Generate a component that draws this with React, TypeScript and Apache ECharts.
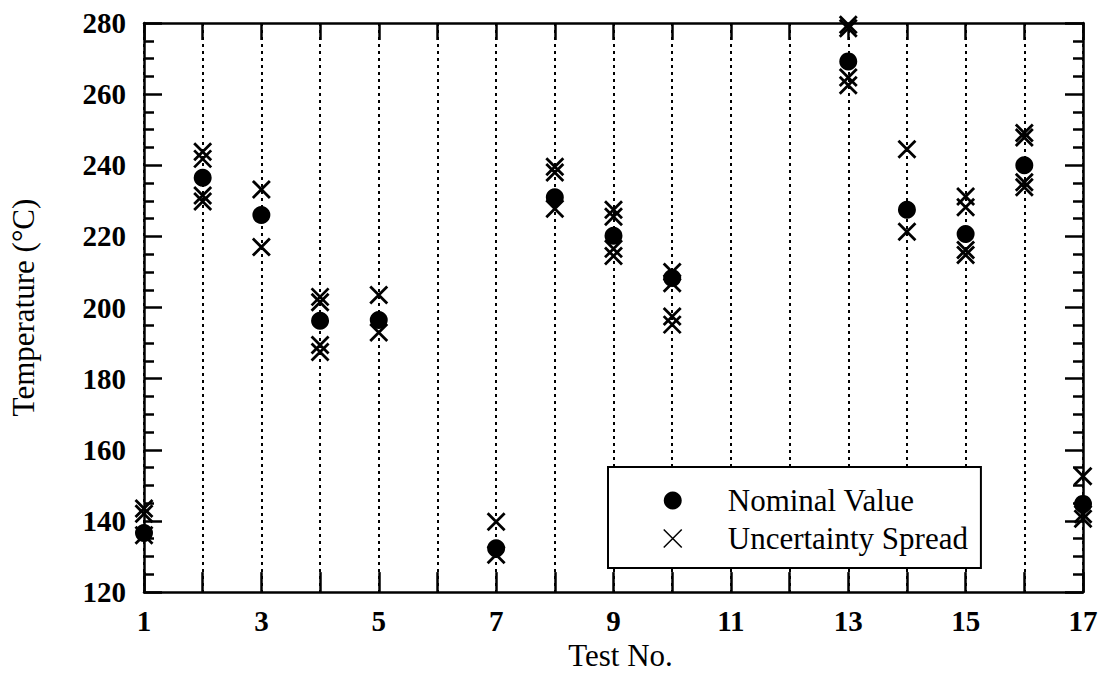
import React, { useEffect, useRef } from "react";
import * as echarts from "echarts";

const TESTS = [1, 2, 3, 4, 5, 6, 7, 8, 9, 10, 11, 12, 13, 14, 15, 16, 17];
const X_TICK_LABELS = ["1", "3", "5", "7", "9", "11", "13", "15", "17"];
const NOMINAL: (number | null)[] = [136.6, 236.5, 226.0, 196.3, 196.5, null, 132.3, 231.0, 220.2, 208.3, null, null, 269.2, 227.5, 220.7, 240.0, 144.8];
const SPREAD_A: (number | null)[] = [143.5, 243.8, 233.2, 203.0, 203.5, null, 139.8, 239.6, 227.5, 210.0, null, null, 279.5, 244.5, 231.2, 249.1, 152.6];
const SPREAD_B: (number | null)[] = [142.0, 241.8, null, 201.5, null, null, null, 238.0, 225.5, 206.8, null, null, 278.5, null, 228.2, 247.8, 141.9];
const SPREAD_C: (number | null)[] = [136.0, 231.5, 217.0, 189.5, 193.0, null, 130.5, 227.8, 216.5, 197.5, null, null, 264.7, 221.3, 216.2, 235.2, 140.6];
const SPREAD_D: (number | null)[] = [null, 229.8, null, 187.5, null, null, null, null, 214.5, 195.2, null, null, 262.5, null, 214.8, 233.8, null];
const LEGEND_NAMES = ["Nominal Value", "Uncertainty Spread"];

const FONT = "Liberation Serif";
const CROSS = "path://M0,0L16,16M0,16L16,0";

function pairs(values: (number | null)[]): [number, number][] {
  const out: [number, number][] = [];
  values.forEach((v, i) => {
    if (v !== null) out.push([TESTS[i], v]);
  });
  return out;
}

export default function App() {
  const ref = useRef<HTMLDivElement>(null);
  useEffect(() => {
    if (!ref.current) return;
    const chart = echarts.init(ref.current, null, { renderer: "svg" });
    const spread = [
      ...pairs(SPREAD_A),
      ...pairs(SPREAD_B),
      ...pairs(SPREAD_C),
      ...pairs(SPREAD_D),
    ];
    const axisLine = { show: true, lineStyle: { color: "#000", width: 2.5 } };
    const yCommon = {
      type: "value",
      min: 120,
      max: 280,
      interval: 20,
      axisLine,
      splitLine: { show: false },
      minorSplitLine: { show: false },
      axisTick: { show: true, inside: true, length: 18, lineStyle: { color: "#000", width: 2.5 } },
      minorTick: { show: true, splitNumber: 4, length: 10, lineStyle: { color: "#000", width: 2.5 } },
    };
    const xCommon = {
      type: "value",
      min: 1,
      max: 17,
      interval: 1,
      axisLine,
    };
    const legendText = { fontFamily: FONT, fontSize: 31, color: "#000", fontWeight: "normal" };
    chart.setOption({
      animation: false,
      backgroundColor: "#fff",
      textStyle: { fontFamily: FONT },
      grid: { left: 143, right: 36, top: 23, bottom: 83, containLabel: false },
      legend: {
        orient: "vertical",
        left: 608,
        top: 467,
        padding: [18, 13, 14, 55],
        itemGap: 7,
        itemWidth: 100,
        itemHeight: 18,
        borderColor: "#000",
        borderWidth: 2,
        backgroundColor: "#fff",
        textStyle: legendText,
        data: [
          { name: LEGEND_NAMES[0], icon: "circle", textStyle: legendText, itemStyle: { color: "#000", opacity: 1 } },
          {
            name: LEGEND_NAMES[1],
            icon: CROSS,
            textStyle: legendText,
            itemStyle: { borderWidth: 1.5, borderColor: "#000", color: "#000", opacity: 1 },
          },
        ],
      },
      xAxis: [
        {
          ...xCommon,
          position: "bottom",
          name: "Test No.",
          nameLocation: "middle",
          nameGap: 46,
          nameTextStyle: { fontFamily: FONT, fontSize: 31, color: "#000", padding: [0, 0, 0, 14] },
          axisTick: { show: true, inside: true, length: 20, lineStyle: { color: "#000", width: 2.5 } },
          axisLabel: {
            show: true,
            margin: 14,
            fontFamily: FONT,
            fontSize: 29,
            fontWeight: "bold",
            color: "#000",
            formatter: (v: number) => (X_TICK_LABELS.includes(String(v)) ? String(v) : ""),
          },
          splitLine: { show: true, lineStyle: { color: "#000", width: 2, type: [3, 4] } },
        },
        {
          ...xCommon,
          position: "top",
          axisTick: { show: true, inside: true, length: 17, lineStyle: { color: "#000", width: 2.5 } },
          axisLabel: { show: false },
          splitLine: { show: false },
        },
      ],
      yAxis: [
        {
          ...yCommon,
          position: "left",
          name: "Temperature (°C)",
          nameLocation: "middle",
          nameGap: 105,
          nameTextStyle: { fontFamily: FONT, fontSize: 31, color: "#000" },
          axisLabel: { show: true, margin: 18, fontFamily: FONT, fontSize: 29, fontWeight: "bold", color: "#000" },
        },
        {
          ...yCommon,
          position: "right",
          axisLabel: { show: false },
        },
      ],
      series: [
        {
          name: LEGEND_NAMES[1],
          type: "scatter",
          xAxisIndex: 0,
          yAxisIndex: 0,
          symbol: CROSS,
          symbolSize: 17,
          clip: false,
          z: 2,
          itemStyle: { color: "#000", borderColor: "#000", borderWidth: 2.8, opacity: 1 },
          data: spread,
        },
        {
          name: LEGEND_NAMES[0],
          type: "scatter",
          xAxisIndex: 0,
          yAxisIndex: 0,
          symbol: "circle",
          symbolSize: 18,
          clip: false,
          z: 3,
          itemStyle: { color: "#000", opacity: 1 },
          data: pairs(NOMINAL),
        },
      ],
    });
    return () => chart.dispose();
  }, []);
  return (
    <div
      ref={ref}
      style={{ position: "fixed", left: 0, top: 0, width: 1119, height: 676, background: "#fff" }}
    />
  );
}
